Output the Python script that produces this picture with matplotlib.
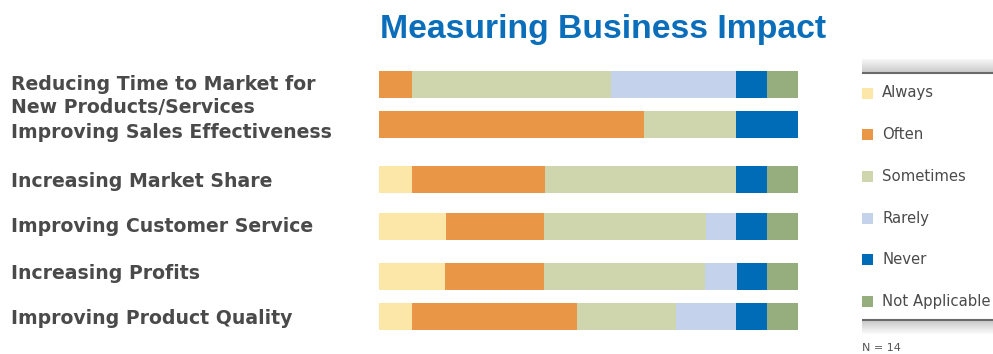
import matplotlib

matplotlib.use("Agg")

import matplotlib.pyplot as plt
import numpy as np


# share of respondents (%) per answer, one entry per initiative row
categories = [
    "Reducing Time to Market for\nNew Products/Services",
    "Improving Sales Effectiveness",
    "Increasing Market Share",
    "Improving Customer Service",
    "Increasing Profits",
    "Improving Product Quality",
]
answers = ["Always", "Often", "Sometimes", "Rarely", "Never", "Not Applicable"]
always = [0.0, 0.0, 7.9, 16.0, 15.8, 7.9]
often = [7.9, 63.2, 31.7, 23.4, 23.6, 39.4]
sometimes = [47.5, 22.0, 45.6, 38.6, 38.5, 23.5]
rarely = [29.8, 0.0, 0.0, 7.2, 7.5, 14.4]
never = [7.4, 14.8, 7.4, 7.4, 7.2, 7.4]
not_applicable = [7.4, 0.0, 7.4, 7.4, 7.4, 7.4]
sample_size = 14

COLORS = ["#FCE7A8", "#EA9647", "#CFD6AD", "#C4D2EB", "#006CB7", "#96AD7E"]
LABEL_COLOR = "#4A4A4A"

W, H = 993, 354


def fx(x):
    return x / W


def fy(y):
    return 1 - y / H


fig = plt.figure(figsize=(W / 100, H / 100), dpi=100)

# stacked bars: x in percent, y in pixel rows from the top
ax = fig.add_axes([fx(379), 0, 419 / W, 1])
row_pos = [84.5, 124.5, 179.5, 226.5, 276.5, 316.5]
series = [always, often, sometimes, rarely, never, not_applicable]
left = np.zeros(len(categories))
for vals, color in zip(series, COLORS):
    vals = np.array(vals)
    ax.barh(row_pos, vals, left=left, height=27, color=color, linewidth=0)
    left += vals
ax.set_xlim(0, 100)
ax.set_ylim(H, 0)
ax.axis("off")

# row labels
label_base = [(90.5, 112.7), (137.7,), (186.7,), (232.3,), (279.0,), (324.3,)]
for text, bases in zip(categories, label_base):
    for line, base in zip(text.split("\n"), bases):
        fig.text(fx(11), fy(base), line, ha="left", va="baseline",
                 fontsize=13.6, fontweight="bold", color=LABEL_COLOR,
                 family="DejaVu Sans")

fig.text(fx(603), fy(37.7), "Measuring Business Impact", ha="center",
         va="baseline", fontsize=24.3, fontweight="bold", color="#0B6EBA",
         family="Liberation Sans")

# legend panel with shaded rules top and bottom
over = fig.add_axes([0, 0, 1, 1], zorder=-1)
over.set_xlim(0, W)
over.set_ylim(H, 0)
over.axis("off")
top_grad = np.linspace(0.97, 0.80, 30).reshape(-1, 1)
over.imshow(top_grad, cmap="gray", vmin=0, vmax=1, aspect="auto",
            extent=[862, W, 72, 59], origin="upper")
over.plot([862, W], [72.5, 72.5], color="#6A6A6A", lw=1.5,
          solid_capstyle="butt")
bot_grad = np.linspace(0.78, 0.98, 30).reshape(-1, 1)
over.imshow(bot_grad, cmap="gray", vmin=0, vmax=1, aspect="auto",
            extent=[862, W, 334, 320], origin="upper")
over.plot([862, W], [319.5, 319.5], color="#6A6A6A", lw=1.5,
          solid_capstyle="butt")

legend_y = [93, 134.7, 176.3, 218, 259.6, 301.2]
for name, color, y in zip(answers, COLORS, legend_y):
    over.add_patch(plt.Rectangle((862, y - 5.5), 11, 11, color=color, lw=0))
    over.text(882, y, name, ha="left", va="center", fontsize=10.7,
              color="#4A4A4A", family="DejaVu Sans")

over.text(862, 343, f"N = {sample_size}", ha="left", va="top", fontsize=8,
          color="#555555", family="DejaVu Sans")

fig.savefig("out.png", dpi=100)
